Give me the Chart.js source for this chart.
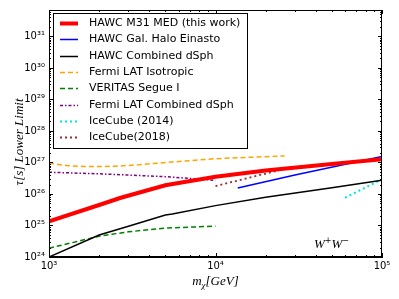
<!DOCTYPE html>
<html>
<head>
<meta charset="utf-8">
<script src="https://cdn.jsdelivr.net/npm/chart.js@4"></script>
<style>
  html, body { margin: 0; padding: 0; background: #fff; }
  #wrap { width: 399px; height: 299px; }
</style>
</head>
<body>
<div id="wrap"><canvas id="tauChart" width="399" height="299"></canvas></div>
<script>
// mass in GeV, lifetime lower limit in s
const m31Mass = [1000, 2000, 2700, 5000, 10000, 20000, 50000, 100000];
const m31Tau = [1.35e25, 4.47e25, 7.6e25, 1.9e26, 3.55e26, 5.6e26, 8.9e26, 1.26e27];

const haloMass = [13600, 30000, 100000];
const haloTau = [1.55e26, 4.0e26, 1.55e27];

const dsphMass = [1000, 2000, 3000, 5000, 5500, 10000, 20000, 50000, 100000];
const dsphTau = [1e24, 5.0e24, 9.5e24, 2.14e25, 2.3e25, 4.27e25, 7.9e25, 1.58e26, 2.75e26];

const fermiIsoMass = [1000, 1300, 1700, 2500, 3500, 5000, 10000, 26000];
const fermiIsoTau = [9.5e26, 7.9e26, 7.4e26, 7.6e26, 8.5e26, 1.0e27, 1.32e27, 1.62e27];

const veritasMass = [1000, 2000, 3000, 5000, 10000];
const veritasTau = [1.9e24, 4.57e24, 6.3e24, 8.3e24, 9.5e24];

const fermiDsphMass = [1000, 2000, 5000, 10000];
const fermiDsphTau = [4.9e26, 4.37e26, 3.55e26, 2.7e26];

const ice14Mass = [60000, 100000];
const ice14Tau = [7.6e25, 2.95e26];

const ice18Mass = [10000, 28000];
const ice18Tau = [1.78e26, 6.9e26];

const xTicks = [1e3, 1e4, 1e5];
const yTicks = [1e24, 1e25, 1e26, 1e27, 1e28, 1e29, 1e30, 1e31];

const sup = {'0':'⁰','1':'¹','2':'²','3':'³','4':'⁴','5':'⁵','6':'⁶','7':'⁷','8':'⁸','9':'⁹'};
function powLabel(v) {
  const e = String(Math.round(Math.log10(v)));
  return '10' + e.split('').map(c => sup[c]).join('');
}
function pts(xs, ys) { return xs.map((x, i) => ({x: x, y: ys[i]})); }

function ds(label, xs, ys, color, width, dash) {
  return { label: label, data: pts(xs, ys), borderColor: color, backgroundColor: color,
           borderWidth: width, borderDash: dash || [], pointRadius: 0, tension: 0, fill: false };
}

const datasets = [
  ds('HAWC M31 MED (this work)', m31Mass, m31Tau, '#ff0000', 4),
  ds('HAWC Gal. Halo Einasto', haloMass, haloTau, '#0000ff', 1.5),
  ds('HAWC Combined dSph', dsphMass, dsphTau, '#000000', 1.5),
  ds('Fermi LAT Isotropic', fermiIsoMass, fermiIsoTau, '#ffa500', 1.5, [5, 3]),
  ds('VERITAS Segue I', veritasMass, veritasTau, '#008000', 1.5, [5, 3]),
  ds('Fermi LAT Combined dSph', fermiDsphMass, fermiDsphTau, '#800080', 1.5, [3, 2, 1.5, 2]),
  ds('IceCube (2014)', ice14Mass, ice14Tau, '#00e5e5', 2, [2, 3]),
  ds('IceCube(2018)', ice18Mass, ice18Tau, '#a52a2a', 1.8, [2, 3])
];

// inward ticks on all sides, axis titles, legend box and annotation
const decor = {
  id: 'decor',
  afterDraw(chart) {
    const c = chart.ctx, a = chart.chartArea;
    const xs = chart.scales.x, ys = chart.scales.y;
    c.save();
    c.strokeStyle = '#000'; c.lineWidth = 1;
    c.strokeRect(Math.round(a.left) + 0.5, Math.round(a.top) + 0.5,
                 Math.round(a.right - a.left) - 1, Math.round(a.bottom - a.top) - 1);
    c.beginPath();
    for (let d = 3; d <= 5; d++) {
      for (let k = 1; k <= 9; k++) {
        const v = k * Math.pow(10, d);
        if (v > 1e5) break;
        const px = Math.round(xs.getPixelForValue(v)) + 0.5;
        const len = k === 1 ? 4 : 2;
        c.moveTo(px, a.bottom); c.lineTo(px, a.bottom - len);
        c.moveTo(px, a.top); c.lineTo(px, a.top + len);
      }
    }
    for (let d = 24; d <= 31; d++) {
      for (let k = 1; k <= 9; k++) {
        const v = k * Math.pow(10, d);
        if (v > ys.max) break;
        const py = Math.round(ys.getPixelForValue(v)) + 0.5;
        const len = k === 1 ? 4 : 2;
        c.moveTo(a.left, py); c.lineTo(a.left + len, py);
        c.moveTo(a.right, py); c.lineTo(a.right - len, py);
      }
    }
    c.stroke();

    // y title
    c.fillStyle = '#000';
    c.font = 'italic 13px "Liberation Serif"';
    c.textAlign = 'center'; c.textBaseline = 'middle';
    c.save();
    c.translate(20, 142); c.rotate(-Math.PI / 2);
    c.fillText('τ[s] Lower Limit', 0, 0);
    c.restore();

    // x title: m_chi [GeV]
    const cx = (a.left + a.right) / 2, by = 285;
    c.textAlign = 'left'; c.textBaseline = 'alphabetic';
    c.font = 'italic 13px "Liberation Serif"';
    const w1 = c.measureText('m').width;
    c.font = 'italic 9px "Liberation Serif"';
    const w2 = c.measureText('χ').width;
    c.font = 'italic 13px "Liberation Serif"';
    const w3 = c.measureText('[GeV]').width;
    const x0 = cx - (w1 + w2 + w3) / 2;
    c.fillText('m', x0, by);
    c.font = 'italic 9px "Liberation Serif"';
    c.fillText('χ', x0 + w1, by + 3);
    c.font = 'italic 13px "Liberation Serif"';
    c.fillText('[GeV]', x0 + w1 + w2, by);

    // W+W- annotation
    let wx = xs.getPixelForValue(5e4) - 18, wy = ys.getPixelForValue(2.5e24) + 4;
    c.font = 'italic 13px "Liberation Serif"';
    c.fillText('W', wx, wy); wx += c.measureText('W').width;
    c.font = '8px "DejaVu Sans"';
    c.fillText('+', wx, wy - 5); wx += c.measureText('+').width;
    c.font = 'italic 13px "Liberation Serif"';
    c.fillText('W', wx, wy); wx += c.measureText('W').width;
    c.font = '8px "DejaVu Sans"';
    c.fillText('−', wx, wy - 5);

    // legend
    c.fillStyle = '#fff';
    c.fillRect(53, 13, 194, 135);
    c.strokeRect(53.5, 13.5, 194, 135);
    c.font = '11px "DejaVu Sans"';
    c.textBaseline = 'middle';
    chart.data.datasets.forEach((d, i) => {
      const y = Math.round(23 + i * 16.3) + 0.5;
      c.beginPath();
      c.strokeStyle = d.borderColor;
      c.lineWidth = d.borderWidth;
      c.setLineDash(d.borderDash);
      c.moveTo(60, y); c.lineTo(78, y);
      c.stroke();
      c.setLineDash([]);
      c.fillStyle = '#000';
      c.fillText(d.label, 89, y);
    });
    c.restore();
  }
};

new Chart(document.getElementById('tauChart'), {
  type: 'line',
  data: { datasets: datasets },
  plugins: [decor],
  options: {
    responsive: false,
    animation: false,
    layout: { padding: { top: 5, right: 17, left: 0, bottom: 0 } },
    plugins: { legend: { display: false }, tooltip: { enabled: false } },
    scales: {
      x: {
        type: 'logarithmic', min: 1e3, max: 1e5,
        grid: { display: false, drawTicks: false }, border: { display: true, color: '#000' },
        afterBuildTicks: s => { s.ticks = xTicks.map(v => ({ value: v })); },
        afterFit: s => { s.height = 42; },
        ticks: { callback: v => powLabel(v), color: '#000', maxRotation: 0, padding: 3,
                 font: { family: 'DejaVu Sans', size: 10 } }
      },
      y: {
        type: 'logarithmic', min: 1e24, max: Math.pow(10, 31.84),
        grid: { display: false, drawTicks: false }, border: { display: true, color: '#000' },
        afterBuildTicks: s => { s.ticks = yTicks.map(v => ({ value: v })); },
        afterFit: s => { s.width = 49; },
        ticks: { callback: v => powLabel(v), color: '#000', padding: 4,
                 font: { family: 'DejaVu Sans', size: 10 } }
      }
    }
  }
});
</script>
</body>
</html>
